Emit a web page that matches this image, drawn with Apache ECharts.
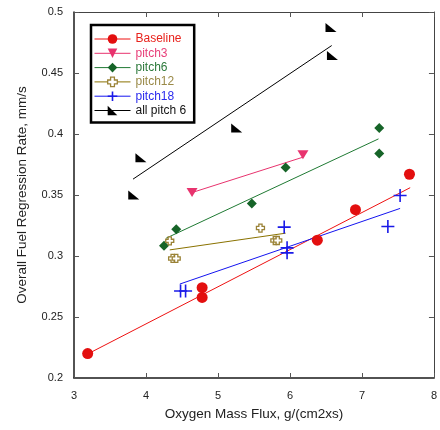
<!DOCTYPE html>
<html>
<head>
<meta charset="utf-8">
<script src="https://cdn.jsdelivr.net/npm/echarts@6/dist/echarts.min.js"></script>
<style>html,body{margin:0;padding:0;background:#fff}#c{width:440px;height:430px}</style>
</head>
<body>
<div id="c"></div>
<script>
// ---- data ----
const xAxisMin = 3, xAxisMax = 8, xAxisStep = 1;
const yAxisMin = 0.2, yAxisMax = 0.5, yAxisStep = 0.05;

const seriesNames = ['Baseline', 'pitch3', 'pitch6', 'pitch12', 'pitch18', 'all pitch 6'];

const baselineX = [3.19, 4.78, 4.78, 6.38, 6.91, 7.66];
const baselineY = [0.220, 0.274, 0.266, 0.313, 0.338, 0.367];
const baselineFitX = [3.20, 7.67];
const baselineFitY = [0.220, 0.356];

const pitch3X = [4.64, 6.18];
const pitch3Y = [0.352, 0.383];
const pitch3FitX = [4.64, 6.18];
const pitch3FitY = [0.352, 0.381];

const pitch6X = [4.25, 4.42, 5.47, 5.94, 7.24, 7.24];
const pitch6Y = [0.3085, 0.322, 0.343, 0.3726, 0.384, 0.405];
const pitch6FitX = [4.28, 7.23];
const pitch6FitY = [0.3146, 0.396];

const pitch12X = [4.33, 4.37, 4.42, 5.59, 5.79, 5.83];
const pitch12Y = [0.3124, 0.298, 0.298, 0.3229, 0.3127, 0.3127];
const pitch12FitX = [4.33, 5.94];
const pitch12FitY = [0.305, 0.3187];

const pitch18X = [4.48, 4.55, 5.92, 5.96, 5.96, 7.36, 7.53];
const pitch18Y = [0.2713, 0.2713, 0.3237, 0.3067, 0.3026, 0.3242, 0.3496];
const pitch18FitX = [4.47, 7.53];
const pitch18FitY = [0.277, 0.339];

const allPitch6X = [3.83, 3.93, 5.26, 6.57, 6.59];
const allPitch6Y = [0.350, 0.3805, 0.405, 0.4873, 0.4643];
const allPitch6FitX = [3.82, 6.58];
const allPitch6FitY = [0.363, 0.4725];

// ---- styling ----
const FONT = "'Liberation Sans', Arial, sans-serif";
const zip = (xs, ys) => xs.map((x, i) => [x, ys[i]]);

const groups = [
  { name: seriesNames[0], x: baselineX, y: baselineY, fx: baselineFitX, fy: baselineFitY,
    line: '#ee1111', mark: '#e30f0f', text: '#e8221c', symbol: 'circle', size: 11,
    item: { color: '#e30f0f' } },
  { name: seriesNames[1], x: pitch3X, y: pitch3Y, fx: pitch3FitX, fy: pitch3FitY,
    line: '#e8336e', mark: '#e8336e', text: '#e8407a', symbol: 'path://M0,0 L10,0 L5,8 Z', size: [11, 9],
    item: { color: '#e8336e' } },
  { name: seriesNames[2], x: pitch6X, y: pitch6Y, fx: pitch6FitX, fy: pitch6FitY,
    line: '#1f7a33', mark: '#166428', text: '#2d7a3c', symbol: 'diamond', size: 10,
    item: { color: '#166428' } },
  { name: seriesNames[3], x: pitch12X, y: pitch12Y, fx: pitch12FitX, fy: pitch12FitY,
    line: '#8a7200', mark: '#9a8236', text: '#9a8a48', symbol: 'path://M3,0 L7,0 L7,3 L10,3 L10,7 L7,7 L7,10 L3,10 L3,7 L0,7 L0,3 L3,3 Z', size: 8,
    item: { color: '#ffffff', borderColor: '#9a8236', borderWidth: 1.3 } },
  { name: seriesNames[4], x: pitch18X, y: pitch18Y, fx: pitch18FitX, fy: pitch18FitY,
    line: '#1414f0', mark: '#1a1ae8', text: '#2b2bee', symbol: 'path://M5,0 L5,10 M0,5 L10,5', size: 13,
    item: { color: 'rgba(0,0,0,0)', borderColor: '#1a1ae8', borderWidth: 1.6 } },
  { name: seriesNames[5], x: allPitch6X, y: allPitch6Y, fx: allPitch6FitX, fy: allPitch6FitY,
    line: '#000000', mark: '#000000', text: '#111111', symbol: 'path://M0,0 L0,8 L10,8 Z', size: [11, 9],
    item: { color: '#000000' } }
];

const series = [];
groups.forEach(g => {
  series.push({
    name: g.name, type: 'line', xAxisIndex: 0, yAxisIndex: 0,
    data: zip(g.fx, g.fy), showSymbol: false, symbol: g.symbol, symbolSize: g.size,
    lineStyle: { color: g.line, width: 1 }, itemStyle: g.item, z: 2, silent: true, animation: false
  });
});
groups.forEach(g => {
  series.push({
    name: g.name + ' data', type: 'scatter', xAxisIndex: 0, yAxisIndex: 0,
    data: zip(g.x, g.y), symbol: g.symbol, symbolSize: g.size,
    itemStyle: Object.assign({ opacity: 1 }, g.item), z: 3, animation: false
  });
});

const legendData = groups.map(g => ({
  name: g.name,
  textStyle: { color: g.text },
  itemStyle: Object.assign({ borderWidth: 0 }, g.item),
  lineStyle: { color: g.line, width: 1 }
}));

const axisLine = { show: true, lineStyle: { color: '#1a1a1a', width: 1.5 } };
const tick = { show: true, inside: true, length: 5, lineStyle: { color: '#555', width: 1 } };

const option = {
  backgroundColor: '#fff',
  animation: false,
  grid: { left: 74, right: 4, top: 12, bottom: 52, containLabel: false },
  legend: {
    data: legendData, orient: 'vertical', left: 91, top: 25,
    padding: [8, 8, 6, 3], itemWidth: 36, itemHeight: 12, itemGap: 2.3,
    borderColor: '#000', borderWidth: 2.5, backgroundColor: '#fff',
    textStyle: { fontFamily: FONT, fontSize: 12, padding: [0, 0, 0, 0] },
    selectedMode: false
  },
  xAxis: [
    { type: 'value', min: xAxisMin, max: xAxisMax, interval: xAxisStep, position: 'bottom',
      axisLine, axisTick: tick, splitLine: { show: false },
      axisLabel: { color: '#222', fontFamily: FONT, fontSize: 11, margin: 12 },
      name: 'Oxygen Mass Flux, g/(cm2xs)', nameLocation: 'middle', nameGap: 29,
      nameTextStyle: { color: '#222', fontFamily: FONT, fontSize: 13.5 } },
    { type: 'value', min: xAxisMin, max: xAxisMax, interval: xAxisStep, position: 'top',
      axisLine: { show: true, lineStyle: { color: '#444', width: 1 } }, axisTick: tick,
      splitLine: { show: false }, axisLabel: { show: false } }
  ],
  yAxis: [
    { type: 'value', min: yAxisMin, max: yAxisMax, interval: yAxisStep, position: 'left',
      axisLine, axisTick: tick, splitLine: { show: false },
      axisLabel: { color: '#222', fontFamily: FONT, fontSize: 11, margin: 11 },
      name: 'Overall Fuel Regression Rate, mm/s', nameLocation: 'middle', nameGap: 45,
      nameTextStyle: { color: '#222', fontFamily: FONT, fontSize: 13.5 } },
    { type: 'value', min: yAxisMin, max: yAxisMax, interval: yAxisStep, position: 'right',
      axisLine: { show: true, lineStyle: { color: '#444', width: 1 } }, axisTick: tick,
      splitLine: { show: false }, axisLabel: { show: false } }
  ],
  series
};

const chart = echarts.init(document.getElementById('c'), null, { renderer: 'canvas' });
chart.setOption(option);
</script>
</body>
</html>
